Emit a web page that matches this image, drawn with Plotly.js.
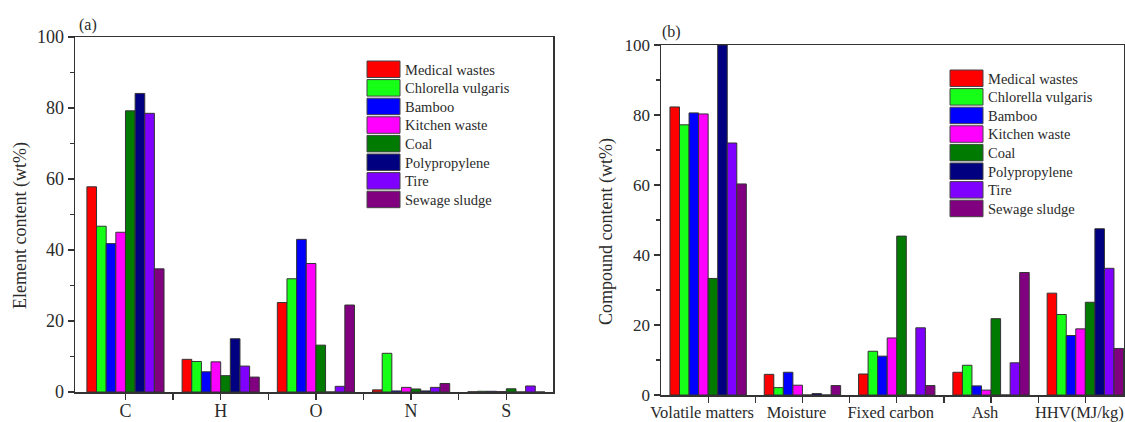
<!DOCTYPE html>
<html>
<head>
<meta charset="utf-8">
<script src="https://cdn.plot.ly/plotly-3.0.1.min.js"></script>
<style>
html,body{margin:0;padding:0;background:#fff;}
#chart{width:1125px;height:422px;}
</style>
</head>
<body>
<div id="chart"></div>
<script>
// ---- Data ----
const seriesNames = ["Medical wastes","Chlorella vulgaris","Bamboo","Kitchen waste","Coal","Polypropylene","Tire","Sewage sludge"];

// Panel (a): element content (wt%)
const elementCats = ["C","H","O","N","S"];
const elemMedical   = [57.8, 9.2, 25.2, 0.6, 0.05];
const elemChlorella = [46.7, 8.6, 31.9, 10.9, 0.2];
const elemBamboo    = [41.8, 5.7, 43.0, 0.3, 0.2];
const elemKitchen   = [45.0, 8.5, 36.2, 1.3, 0.1];
const elemCoal      = [79.2, 4.6, 13.2, 0.85, 0.9];
const elemPP        = [84.1, 15.0, 0, 0.3, 0];
const elemTire      = [78.5, 7.3, 1.6, 1.3, 1.7];
const elemSludge    = [34.7, 4.2, 24.5, 2.4, 0];

// Panel (b): compound content (wt%)
const compoundCats = ["Volatile matters","Moisture","Fixed carbon","Ash","HHV(MJ/kg)"];
const compMedical   = [82.3, 5.9, 6.0, 6.5, 29.1];
const compChlorella = [77.2, 2.1, 12.5, 8.5, 23.0];
const compBamboo    = [80.6, 6.5, 11.1, 2.6, 17.0];
const compKitchen   = [80.3, 2.8, 16.3, 1.4, 18.9];
const compCoal      = [33.3, 0, 45.4, 21.8, 26.5];
const compPP        = [100, 0.4, 0, 0, 47.5];
const compTire      = [72.0, 0, 19.2, 9.2, 36.2];
const compSludge    = [60.3, 2.7, 2.7, 35.0, 13.3];

const yTickVals = [0, 20, 40, 60, 80, 100];

// ---- Styles ----
const colors = ["#ff0000","#16ff16","#0000ff","#ff00ff","#007a00","#000080","#7f00ff","#800080"];
const FONT = "Liberation Serif, Times New Roman, serif";
const TXT = "#2a2a2a";

const elemData = [elemMedical, elemChlorella, elemBamboo, elemKitchen, elemCoal, elemPP, elemTire, elemSludge];
const compData = [compMedical, compChlorella, compBamboo, compKitchen, compCoal, compPP, compTire, compSludge];

const idxA = elementCats.map((_, i) => i);
const idxB = compoundCats.map((_, i) => i);

const traces = [];
seriesNames.forEach((name, i) => {
  traces.push({
    type: "bar", name: name, x: idxA, y: elemData[i], xaxis: "x", yaxis: "y",
    marker: {color: colors[i], line: {color: "#333", width: 1}}, showlegend: false,
    hovertext: elementCats, cliponaxis: true
  });
});
seriesNames.forEach((name, i) => {
  traces.push({
    type: "bar", name: name, x: idxB, y: compData[i], xaxis: "x2", yaxis: "y2",
    marker: {color: colors[i], line: {color: "#333", width: 1}}, showlegend: false,
    hovertext: compoundCats, cliponaxis: true
  });
});

// pixel helpers (figure 1125x422, margins l=75 r=1 t=37 b=27)
const ML = 75, MR = 1, MT = 37, MB = 27, W = 1125, H = 422;
const PW = W - ML - MR, PH = H - MT - MB;
const px = x => (x - ML) / PW;
const py = y => (H - MB - y) / PH;

function xAxis(cats, idx, dom, rng, fs, shift) {
  return {
    domain: dom, range: rng, type: "linear",
    tickmode: "array", tickvals: idx, ticktext: cats,
    ticks: "outside", ticklen: 6, tickwidth: 1.3, tickcolor: "#333",
    ticklabeloverflow: "allow", ticklabelstandoff: -4, ticklabelshift: shift,
    minor: {tickmode: "array", tickvals: idx.slice(0, -1).map(i => i + 0.5), ticks: "outside", ticklen: 6, tickwidth: 1.3, tickcolor: "#333"},
    showline: true, linecolor: "#333", linewidth: 1.5, mirror: true,
    showgrid: false, zeroline: false,
    tickfont: {family: FONT, size: fs, color: TXT}
  };
}
function yAxis(dom, anchor, fs) {
  return {
    domain: dom, range: [0, 100], anchor: anchor,
    tickmode: "array", tickvals: yTickVals,
    ticks: "outside", ticklen: 6, tickwidth: 1.3, tickcolor: "#333",
    minor: {dtick: 10, ticks: "outside", ticklen: 4, tickwidth: 1.3, tickcolor: "#333"},
    showline: true, linecolor: "#333", linewidth: 1.5, mirror: true,
    showgrid: false, zeroline: false,
    tickfont: {family: FONT, size: fs, color: TXT}
  };
}

const shapes = [];
const annotations = [];

function addLegend(x0, y0, step, textX) {
  seriesNames.forEach((name, i) => {
    const top = y0 + i * step;
    shapes.push({type: "rect", xref: "paper", yref: "paper",
      x0: px(x0), x1: px(x0 + 33), y0: py(top + 16.5), y1: py(top),
      fillcolor: colors[i], line: {color: "#444", width: 1}});
    annotations.push({xref: "paper", yref: "paper", x: px(textX), y: py(top + 8.5),
      xanchor: "left", yanchor: "middle", showarrow: false, text: name,
      font: {family: FONT, size: 14.5, color: TXT}});
  });
}
addLegend(367, 61, 18.6, 403);
addLegend(950, 70, 18.6, 986);

annotations.push({xref: "paper", yref: "paper", x: px(20), y: py(226), textangle: -90,
  xanchor: "center", yanchor: "middle", showarrow: false, text: "Element content (wt%)",
  font: {family: FONT, size: 18, color: TXT}});
annotations.push({xref: "paper", yref: "paper", x: px(607), y: py(232), textangle: -90,
  xanchor: "center", yanchor: "middle", showarrow: false, text: "Compound content (wt%)",
  font: {family: FONT, size: 18, color: TXT}});
annotations.push({xref: "paper", yref: "paper", x: px(77), y: py(25),
  xanchor: "left", yanchor: "middle", showarrow: false, text: "(a)",
  font: {family: FONT, size: 16, color: TXT}});
annotations.push({xref: "paper", yref: "paper", x: px(660), y: py(32),
  xanchor: "left", yanchor: "middle", showarrow: false, text: "(b)",
  font: {family: FONT, size: 16, color: TXT}});

const layout = {
  width: W, height: H,
  margin: {l: ML, r: MR, t: MT, b: MB},
  paper_bgcolor: "#fff", plot_bgcolor: "#fff",
  barmode: "group", bargap: 0.19, bargroupgap: 0,
  font: {family: FONT, color: TXT},
  xaxis: xAxis(elementCats, idxA, [0, px(553)], [-0.53, 4.49], 18, 0),
  yaxis: yAxis([py(392), 1], "x", 18),
  xaxis2: Object.assign(xAxis(compoundCats, idxB, [px(661), 1], [-0.5, 4.41], 16.5, -6), {anchor: "y2"}),
  yaxis2: yAxis([0, py(45)], "x2", 17),
  shapes: shapes,
  annotations: annotations
};
layout.xaxis.anchor = "y";

Plotly.newPlot("chart", traces, layout, {displayModeBar: false, staticPlot: true});
</script>
</body>
</html>
